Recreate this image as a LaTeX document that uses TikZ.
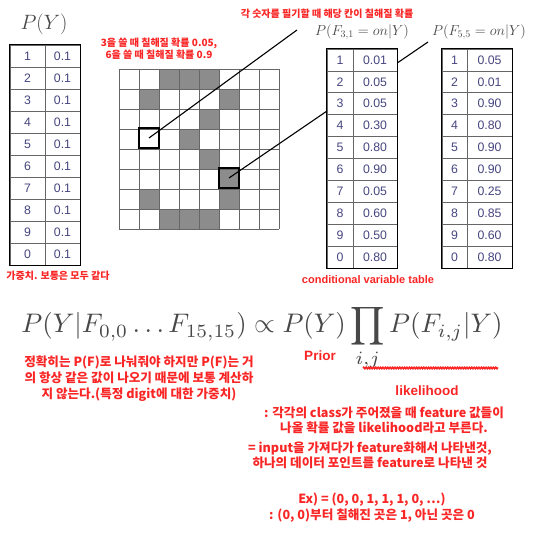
\documentclass[tikz,border=0pt]{standalone}
\usepackage{fontspec}
\usepackage{amsmath,graphicx}
\usetikzlibrary{positioning,fit,calc,decorations.pathmorphing}
\newfontfamily\krfont{Noto Sans CJK KR}
\newfontfamily\enfont{Liberation Sans}
\newfontfamily\tabfont{Liberation Sans}
\definecolor{annored}{RGB}{250,38,38}
\definecolor{digitblue}{RGB}{70,70,128}
\definecolor{mathgray}{RGB}{72,72,72}
\definecolor{cellgray}{RGB}{140,140,140}

\begin{document}
\begin{tikzpicture}[x=1pt,y=-1pt,
  note/.style={font=\krfont\bfseries\fontsize{10}{12}\selectfont,text=annored,align=center,inner sep=0pt},
  bignote/.style={note,font=\krfont\bfseries\fontsize{12.6}{15.5}\selectfont},
  ennote/.style={note,font=\enfont\bfseries\fontsize{13.5}{16}\selectfont},
  mlab/.style={text=mathgray,inner sep=0pt},
  gridline/.style={draw=black!60,line width=0.7pt},
  selbox/.style={draw=black,line width=1.6pt,minimum size=20pt,inner sep=0pt},
  conn/.style={black,line width=1.1pt},
  keycell/.style={draw=black!60,line width=0.7pt,fill=white,minimum height=22pt,inner sep=0pt,font=\tabfont\fontsize{12.3}{14}\selectfont,text=digitblue},
  valcell/.style={keycell},
  tabframe/.style={draw=black,line width=1.5pt,inner sep=0pt},
  scribble/.style={annored,line width=1.6pt,decorate,decoration={snake,amplitude=0.7pt,segment length=2.4pt}}
]
\useasboundingbox[fill=white] (0,0) rectangle (542,540);

% pixel grid of the digit
\begin{scope}[shift={(119,69)}]
  \foreach \c/\r in {2/0,3/0,4/0,1/1,5/1,4/2,3/3,4/4,5/5,1/6,5/6,2/7,3/7,4/7}
    \fill[cellgray] (20*\c,20*\r) rectangle ++(20,20);
  \foreach \k in {0,...,8} {
    \draw[gridline] (20*\k,0) -- (20*\k,160);
    \draw[gridline] (0,20*\k) -- (160,20*\k);
  }
\end{scope}
\node[selbox] (boxA) at (149,138) {};
\node[selbox] (boxB) at (229,178) {};

% labels
\node[mlab,font=\fontsize{20}{22}\selectfont] (lblY) at (44,24) {$P(Y)$};
\node[mlab,font=\fontsize{14.2}{16}\selectfont] (lblA) at (362,32) {$P(F_{3,1}=on|Y)$};
\node[mlab,font=\fontsize{14.2}{16}\selectfont] (lblB) at (479,32) {$P(F_{5,5}=on|Y)$};
\coordinate (tipA) at (297,30);
\coordinate (tipB) at (428,42);
\draw[conn] (boxA.center) -- (tipA);
\draw[conn] (boxB.center) -- (tipB);

% P(Y) table
\foreach \k [count=\i] in {1,...,9,0} {
  \node[keycell,minimum width=35pt] (py-k\i) at (27.5,{22*\i+34}) {\k};
  \node[valcell,minimum width=35pt] (py-v\i) at (62.5,{22*\i+34}) {0.1};
}
\node[tabframe,fit=(py-k1)(py-v10)] (py) {};

% conditional tables
\foreach \k/\v [count=\i] in {1/0.01,2/0.05,3/0.05,4/0.30,5/0.80,6/0.90,7/0.05,8/0.60,9/0.50,0/0.80} {
  \node[keycell,minimum width=26pt,minimum height=21.9pt] (ta-k\i) at (340,{21.9*\i+38.05}) {\k};
  \node[valcell,minimum width=44pt,minimum height=21.9pt] (ta-v\i) at (375,{21.9*\i+38.05}) {\v};
}
\node[tabframe,fit=(ta-k1)(ta-v10)] (ta) {};
\foreach \k/\v [count=\i] in {1/0.05,2/0.01,3/0.90,4/0.80,5/0.90,6/0.90,7/0.25,8/0.85,9/0.60,0/0.80} {
  \node[keycell,minimum width=25pt,minimum height=21.9pt] (tb-k\i) at (454.5,{21.9*\i+38.05}) {\k};
  \node[valcell,minimum width=45pt,minimum height=21.9pt] (tb-v\i) at (489.5,{21.9*\i+38.05}) {\v};
}
\node[tabframe,fit=(tb-k1)(tb-v10)] (tb) {};

% red notes above and below the tables
\node[note] (topnote) at (327,14) {각 숫자를 필기할 때 해당 칸이 칠해질 확률};
\node[note] (gridnote) at (159,49) {3을 쓸 때 칠해질 확률 0.05,\\6을 쓸 때 칠해질 확률 0.9};
\node[note] (pynote) at (58,276) {가중치. 보통은 모두 같다};
\node[note,font=\enfont\bfseries\fontsize{11}{13}\selectfont] (cvt) at (368,280) {conditional variable table};

% formula
\node[mlab,anchor=base] (eq) at (262,333) {\resizebox{481pt}{!}{$\displaystyle P(Y|F_{0,0}\ldots F_{15,15})\propto P(Y)\prod_{i,j}P(F_{i,j}|Y)$}};
\draw[scribble] (363,368) -- (498,368);

% explanations
\node[ennote] (prior) at (320,356) {Prior};
\node[ennote] (lik) at (427,391) {likelihood};
\node[bignote,font=\krfont\bfseries\fontsize{12.6}{16}\selectfont] (leftnote) at (139,379) {정확히는 P(F)로 나눠줘야 하지만 P(F)는 거\\의 항상 같은 값이 나오기 때문에 보통 계산하\\지 않는다.(특정 digit에 대한 가중치)};
\node[bignote] (liknote) at (384,420.5) {: 각각의 class가 주어졌을 때 feature 값들이\\나올 확률 값을 likelihood라고 부른다.};
\node[bignote] (featnote) at (370,455.5) {= input을 가져다가 feature화해서 나타낸것,\\하나의 데이터 포인트를 feature로 나타낸 것};
\node[bignote] (exnote) at (372,507.5) {Ex) = (0, 0, 1, 1, 1, 0, …)\\: (0, 0)부터 칠해진 곳은 1, 아닌 곳은 0};
\end{tikzpicture}
\end{document}
